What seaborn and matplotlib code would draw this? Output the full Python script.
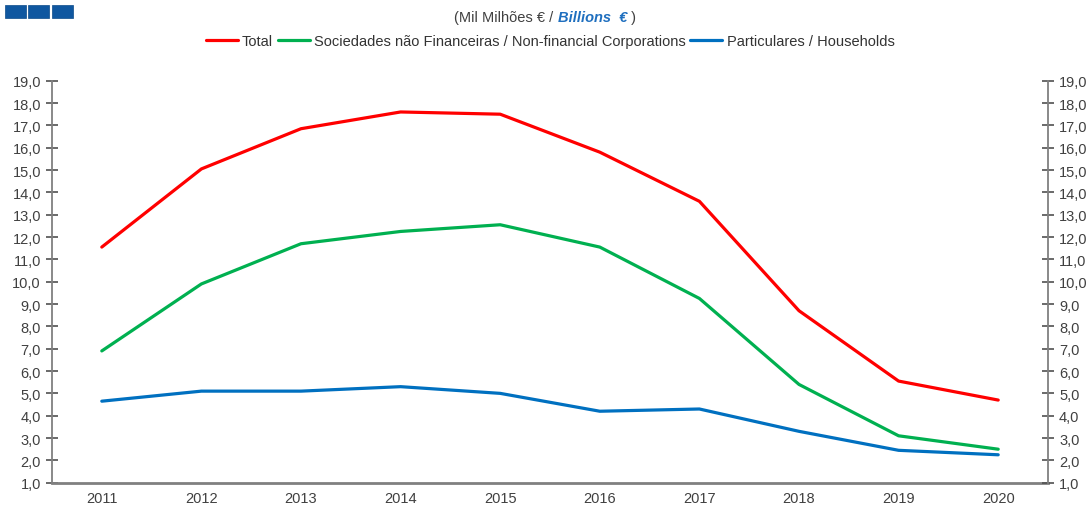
import matplotlib
matplotlib.use("Agg")
import matplotlib.pyplot as plt
from matplotlib.patches import Rectangle
import seaborn as sns
import pandas as pd
from matplotlib.ticker import FuncFormatter, FixedLocator

years = ["2011", "2012", "2013", "2014", "2015", "2016", "2017", "2018", "2019", "2020"]
total = [11.55, 15.05, 16.85, 17.6, 17.5, 15.8, 13.6, 8.7, 5.55, 4.7]
nfc = [6.9, 9.9, 11.7, 12.25, 12.55, 11.55, 9.25, 5.4, 3.1, 2.5]
households = [4.65, 5.1, 5.1, 5.3, 5.0, 4.2, 4.3, 3.3, 2.45, 2.25]
series_names = ["Total",
                "Sociedades não Financeiras / Non-financial Corporations",
                "Particulares / Households"]
colors = ["#ff0000", "#00b050", "#0070c0"]
y_ticks = [1, 2, 3, 4, 5, 6, 7, 8, 9, 10, 11, 12, 13, 14, 15, 16, 17, 18, 19]

rows = []
for name, vals in zip(series_names, [total, nfc, households]):
    for y, v in zip(years, vals):
        rows.append({"Ano": y, "Valor": v, "Serie": name})
df = pd.DataFrame(rows)

sns.set_style("white")
plt.rcParams["font.family"] = ["Liberation Sans", "DejaVu Sans"]
FS = 10.5
TXT = "#404040"
SPINE = "#808080"

fig = plt.figure(figsize=(10.91, 5.10), dpi=100)
ax = fig.add_axes([52 / 1091, 1 - 483.7 / 510, (1048 - 52) / 1091, (483.7 - 81.7) / 510])

sns.lineplot(data=df, x="Ano", y="Valor", hue="Serie", palette=colors,
             hue_order=series_names, sort=False, linewidth=2.3, ax=ax, legend=True)

ax.set_xlim(-0.5, len(years) - 0.5)
ax.set_ylim(1, 19)
ax.set_xlabel("")
ax.set_ylabel("")

fmt = FuncFormatter(lambda v, p: f"{v:.1f}".replace(".", ","))
ax.yaxis.set_major_locator(FixedLocator(y_ticks))
ax.yaxis.set_major_formatter(fmt)

# x: labels at category centres, tick marks at category boundaries
ax.set_xticks([i for i in range(len(years))])
ax.set_xticklabels(years)
ax.tick_params(axis="x", which="major", length=0, labelsize=FS, labelcolor=TXT, pad=6)
ax.set_xticks([i + 0.5 for i in range(len(years) - 1)], minor=True)
ax.tick_params(axis="x", which="minor", length=4, width=1.2, color=SPINE, direction="out")

ax.tick_params(axis="y", which="major", direction="inout", length=8, width=1.2,
               color="#505050", labelsize=FS, labelcolor=TXT, pad=4, left=True)

ax2 = ax.twinx()
ax2.set_ylim(1, 19)
ax2.yaxis.set_major_locator(FixedLocator(y_ticks))
ax2.yaxis.set_major_formatter(fmt)
ax2.tick_params(axis="y", which="major", direction="inout", length=8, width=1.2,
                color="#505050", labelsize=FS, labelcolor=TXT, pad=4, right=True)

for a in (ax, ax2):
    a.spines["top"].set_visible(False)
ax.spines["left"].set_color(SPINE)
ax.spines["left"].set_linewidth(1.3)
ax.spines["right"].set_visible(False)
ax2.spines["left"].set_visible(False)
ax2.spines["bottom"].set_visible(False)
ax2.spines["right"].set_color(SPINE)
ax2.spines["right"].set_linewidth(1.3)
ax.spines["bottom"].set_color(SPINE)
ax.spines["bottom"].set_linewidth(2.0)

# legend at the top
handles, labels = ax.get_legend_handles_labels()
ax.get_legend().remove()
leg = fig.legend(handles, labels, loc="center", bbox_to_anchor=(550 / 1091, 1 - 42 / 510),
                 ncol=3, frameon=False, fontsize=FS, handlelength=2.2,
                 handletextpad=0.3, columnspacing=0.3, borderaxespad=0)
for t in leg.get_texts():
    t.set_color("#333333")
for l in leg.get_lines():
    l.set_linewidth(2.3)

# composite unit title
fig.canvas.draw()
r = fig.canvas.get_renderer()
parts = [("(Mil Milhões € / ", dict(color="#404040")),
         ("Billions  €", dict(color="#1f6fbf", fontweight="bold", fontstyle="italic")),
         (" )", dict(color="#404040"))]
texts = []
for s, kw in parts:
    texts.append(fig.text(0, 1 - 18 / 510, s, fontsize=FS, va="center", ha="left", **kw))
widths = [t.get_window_extent(r).width for t in texts]
x = 545 - sum(widths) / 2
for t, w in zip(texts, widths):
    t.set_x(x / 1091)
    x += w

# logo squares (decoration)
for x0 in (5, 28, 52):
    fig.patches.append(Rectangle((x0 / 1091, 1 - 19 / 510), 21 / 1091, 13 / 510,
                                 transform=fig.transFigure, facecolor="#0f57a0",
                                 edgecolor="#0b4a8a", linewidth=0.5))

fig.savefig("out.png", dpi=100, facecolor="white")
